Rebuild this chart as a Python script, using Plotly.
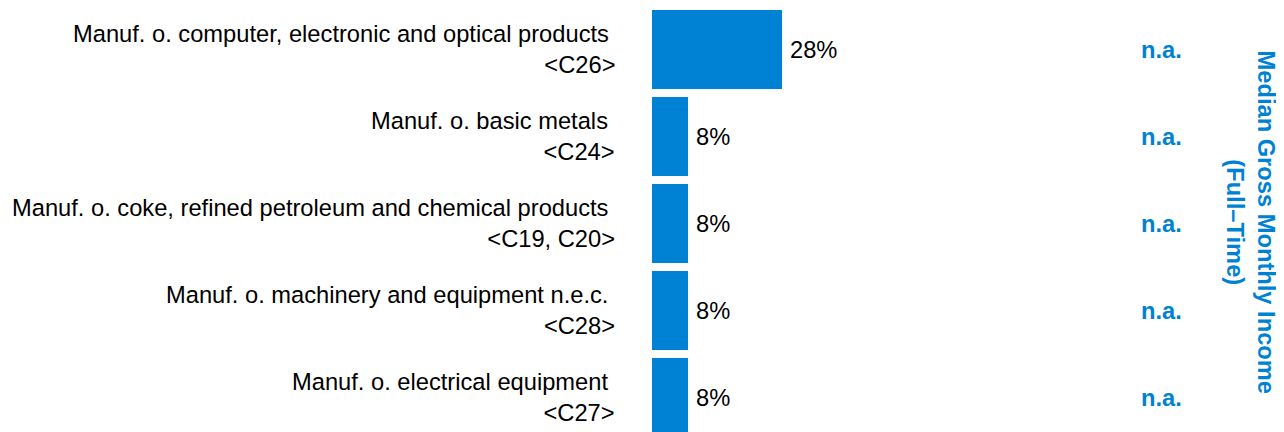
import plotly.graph_objects as go

# ---- data ----
categories = [
    "Manuf. o. computer, electronic and optical products",
    "Manuf. o. basic metals",
    "Manuf. o. coke, refined petroleum and chemical products",
    "Manuf. o. machinery and equipment n.e.c.",
    "Manuf. o. electrical equipment",
]
codes = ["<C26>", "<C24>", "<C19, C20>", "<C28>", "<C27>"]
values = [28.2, 7.8, 7.8, 7.8, 7.8]
value_labels = ["28%", "8%", "8%", "8%", "8%"]
income_labels = ["n.a.", "n.a.", "n.a.", "n.a.", "n.a."]
income_title = "Median Gross Monthly Income<br>(Full\u2013Time)"

BLUE = "#0082D4"
FONT = "Liberation Sans, Arial, sans-serif"
FS = 23.7

# page body has an 8px margin; figure sized to fill the rest of the window
OFF = 8
W, H = 1284 - OFF, 432 - OFF
ML, MT = 652 - OFF, 0
plot_w = W - ML
plot_h = H - MT
px_per_cat = 87.0
px_per_pct = 4.6
first_center_px = 49.5 - OFF  # screen center of first bar, in figure px
r0 = -first_center_px / px_per_cat

ypos = list(range(len(categories)))

fig = go.Figure()
fig.add_trace(go.Bar(
    x=values, y=ypos, orientation="h",
    marker=dict(color=BLUE, line=dict(width=0)),
    width=79 / px_per_cat,
    hoverinfo="skip",
))

annotations = []
for i, (cat, code, v, vl, inc) in enumerate(zip(categories, codes, values, value_labels, income_labels)):
    annotations.append(dict(
        xref="paper", yref="y", x=0, y=i, xanchor="right", yanchor="middle",
        xshift=-35, align="right", showarrow=False,
        text=cat + "\u00a0<br>" + code.replace("<", "&lt;").replace(">", "&gt;"),
        font=dict(family=FONT, size=FS, color="#000000"),
    ))
    annotations.append(dict(
        xref="x", yref="y", x=v, y=i, xanchor="left", yanchor="middle",
        xshift=6, showarrow=False, text=vl,
        font=dict(family=FONT, size=FS, color="#000000"),
    ))
    annotations.append(dict(
        xref="paper", yref="y", x=(1161 - 652) / plot_w, y=i,
        xanchor="center", yanchor="middle", showarrow=False,
        text="<b>" + inc + "</b>",
        font=dict(family=FONT, size=FS, color=BLUE),
    ))

annotations.append(dict(
    xref="paper", yref="paper", x=(1250.5 - 652) / plot_w, y=(H - (222 - OFF)) / plot_h,
    xanchor="center", yanchor="middle", showarrow=False, textangle=90,
    text="<b>" + income_title + "</b>",
    font=dict(family=FONT, size=FS, color=BLUE),
))

fig.update_layout(
    width=W, height=H,
    margin=dict(l=ML, r=0, t=MT, b=0, pad=0),
    paper_bgcolor="white", plot_bgcolor="white",
    showlegend=False,
    xaxis=dict(range=[0, plot_w / px_per_pct], visible=False, fixedrange=True),
    yaxis=dict(range=[r0 + plot_h / px_per_cat, r0], visible=False, fixedrange=True),
    annotations=annotations,
    bargap=0,
)

fig.write_html("out.html")
